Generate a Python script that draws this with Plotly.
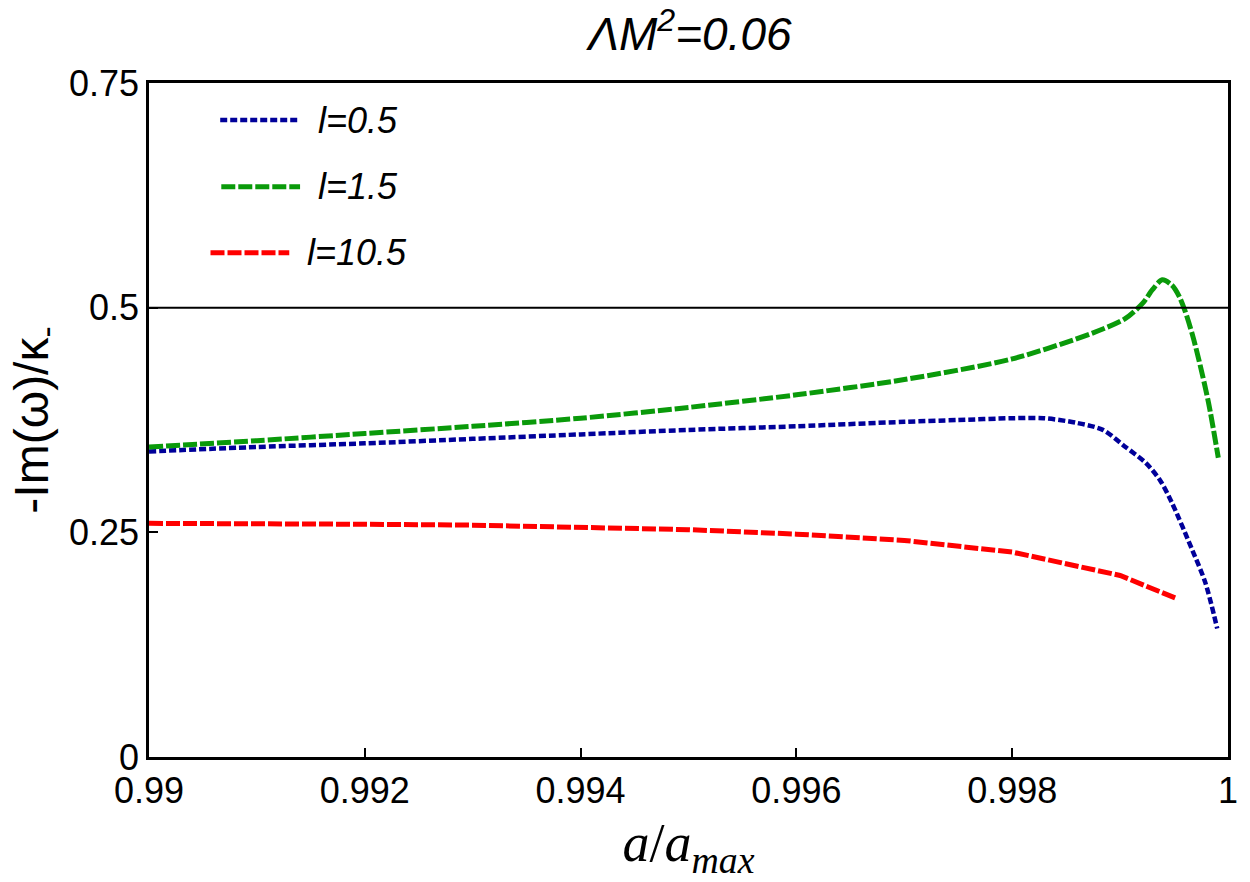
import plotly.graph_objects as go

# ---- data ----
a_l05 = [0.990, 0.991, 0.992, 0.993, 0.994, 0.995, 0.996, 0.997, 0.9975, 0.998,
         0.99829, 0.99859, 0.99884, 0.99905, 0.99924, 0.99937, 0.99948, 0.99967,
         0.99979, 0.9999]
v_l05 = [0.340, 0.345, 0.349, 0.354, 0.359, 0.364, 0.368, 0.373, 0.375, 0.377,
         0.377, 0.372, 0.364, 0.345, 0.327, 0.308, 0.283, 0.230,
         0.194, 0.143]

a_l15 = [0.990, 0.991, 0.992, 0.993, 0.994, 0.995, 0.996, 0.997, 0.998, 0.99875,
         0.99905, 0.99921, 0.9993, 0.99939, 0.99948, 0.99955, 0.9996, 0.99967,
         0.99973, 0.99982, 0.99991]
v_l15 = [0.345, 0.352, 0.360, 0.368, 0.377, 0.389, 0.403, 0.420, 0.443, 0.472,
         0.488, 0.505, 0.520, 0.531, 0.525, 0.512, 0.497, 0.470,
         0.442, 0.394, 0.333]

a_l105 = [0.990, 0.991, 0.992, 0.993, 0.994, 0.995, 0.996, 0.997, 0.998, 0.999, 0.99951]
v_l105 = [0.260, 0.260, 0.259, 0.258, 0.256, 0.253, 0.248, 0.241, 0.228, 0.202, 0.177]

x_ticks = [0.99, 0.992, 0.994, 0.996, 0.998, 1.0]
x_tick_labels = ["0.99", "0.992", "0.994", "0.996", "0.998", "1"]
y_ticks = [0, 0.25, 0.5, 0.75]
y_tick_labels = ["0", "0.25", "0.5", "0.75"]
legend_labels = ["l=0.5", "l=1.5", "l=10.5"]

BLUE = "#00009a"
GREEN = "#0a9a0a"
RED = "#ff0000"
FONT = "Liberation Sans"

fig = go.Figure()
fig.add_trace(go.Scatter(x=a_l05, y=v_l05, mode="lines", line_shape="spline",
                         line=dict(color=BLUE, width=4.5, dash="7px,3px", smoothing=0.8)))
fig.add_trace(go.Scatter(x=a_l15, y=v_l15, mode="lines", line_shape="spline",
                         line=dict(color=GREEN, width=5, dash="14px,3px", smoothing=0.8)))
fig.add_trace(go.Scatter(x=a_l105, y=v_l105, mode="lines",
                         line=dict(color=RED, width=5, dash="14px,3px")))

# horizontal reference line at 0.5
fig.add_shape(type="line", xref="paper", x0=0, x1=1, yref="y", y0=0.5, y1=0.5,
              line=dict(color="black", width=2))

# manual legend
leg = [(BLUE, "7px,3px", 4.5, 0.066, 0.140, 0.945, 0.155),
       (GREEN, "14px,3px", 5, 0.067, 0.140, 0.846, 0.155),
       (RED, "14px,3px", 5, 0.057, 0.130, 0.748, 0.145)]
for (c, d, w, x0, x1, y, xt), lab in zip(leg, legend_labels):
    fig.add_shape(type="line", xref="paper", yref="paper", x0=x0, x1=x1, y0=y, y1=y,
                  line=dict(color=c, width=w, dash=d))
    fig.add_annotation(xref="paper", yref="paper", x=xt, y=y, text="<i>%s</i>" % lab,
                       showarrow=False, xanchor="left", yanchor="middle",
                       font=dict(family=FONT, size=36, color="black"))

fig.update_layout(
    width=1250, height=882,
    margin=dict(l=149, r=13, t=83, b=125),
    plot_bgcolor="white", paper_bgcolor="white",
    showlegend=False,
    title=dict(text="<i>ΛM<sup>2</sup>=0.06</i>", x=0.552, xanchor="center",
               y=0.961, yanchor="middle",
               font=dict(family=FONT, size=46, color="black")),
    font=dict(family=FONT, color="black"),
)
fig.update_xaxes(range=[0.99, 1.0], tickvals=x_ticks, ticktext=x_tick_labels,
                 showgrid=False, zeroline=False, showline=True, linecolor="black",
                 linewidth=2.5, mirror=True, ticks="inside", ticklen=9, tickwidth=1.5,
                 tickcolor="black", tickfont=dict(family=FONT, size=36, color="black"),
                 title=dict(text="<i>a</i>/<i>a</i><sub><i>max</i></sub>",
                            font=dict(family="Liberation Serif", size=54, color="black"),
                            standoff=14))
fig.update_yaxes(range=[0, 0.75], tickvals=y_ticks, ticktext=y_tick_labels,
                 showgrid=False, zeroline=False, showline=True, linecolor="black",
                 linewidth=2.5, mirror=True, ticks="inside", ticklen=9, tickwidth=1.5,
                 tickcolor="black", tickfont=dict(family=FONT, size=36, color="black"),
                 title=dict(text="-Im(ω)/κ<sub>-</sub>",
                            font=dict(family=FONT, size=48, color="black"),
                            standoff=6))

fig.write_html("out.html")
